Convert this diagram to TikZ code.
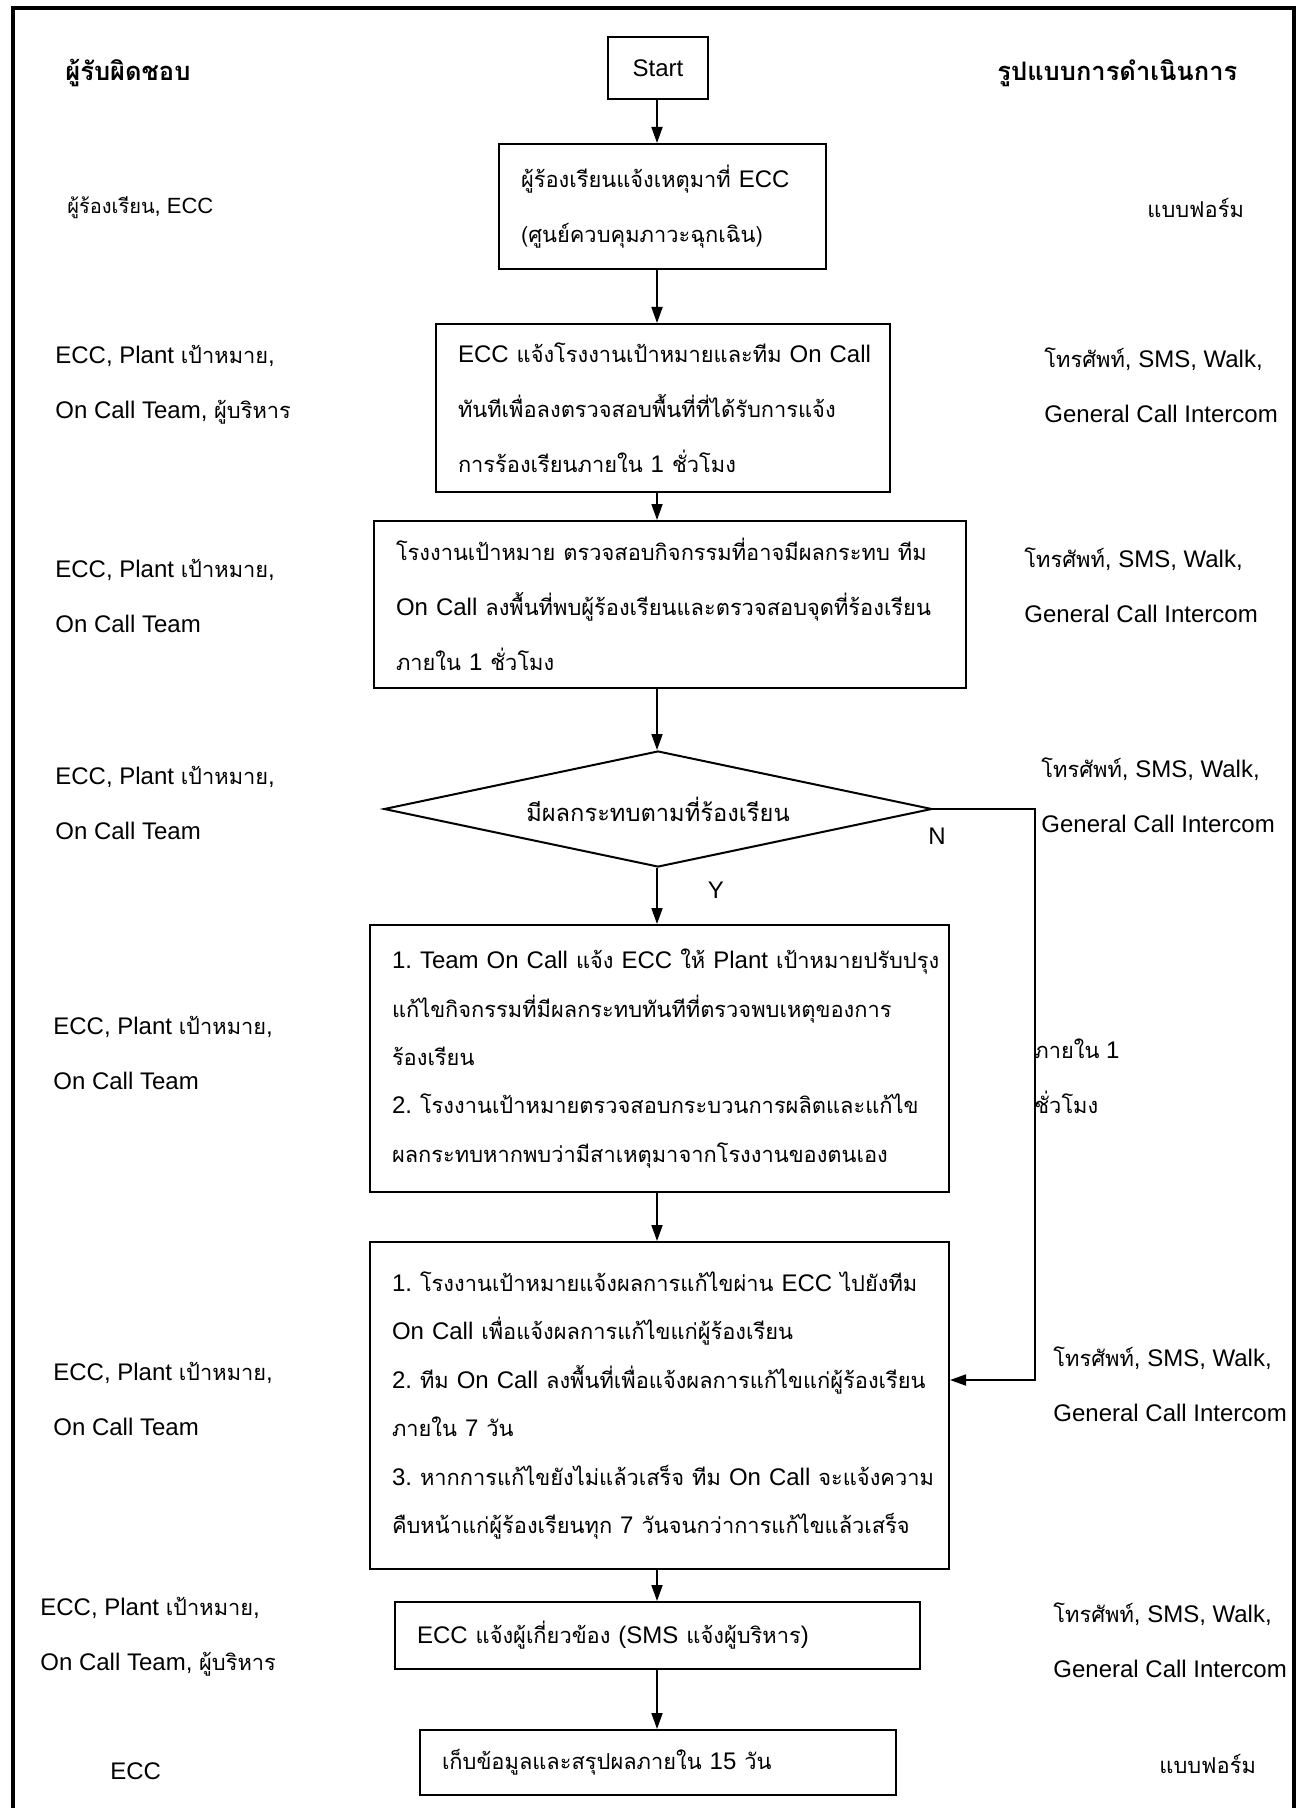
\documentclass[tikz,border=0pt]{standalone}
\usepackage{fontspec}
\setmainfont{Liberation Sans}
\newfontfamily\thaifont[Script=Thai,Scale=0.91]{Loma}
\newcommand\T[1]{{\thaifont #1}}
\usetikzlibrary{arrows.meta,shapes.geometric}
\frenchspacing
\begin{document}
\begin{tikzpicture}[x=0.5pt,y=-0.5pt,
  every node/.style={inner sep=0pt},
  fs/.style={font=\frenchspacing\fontsize{12}{27.5}\selectfont},
  fsb/.style={font=\frenchspacing\fontsize{12}{24.2}\selectfont},
  lbl/.style={fs, anchor=west, align=left},
  hd/.style={anchor=west, font=\fontsize{14}{16}\selectfont\bfseries},
  box/.style={draw, line width=1pt, inner xsep=11pt, inner ysep=0pt, align=left},
  arr/.style={line width=0.9pt, -{Triangle[length=8pt,width=5.5pt]}},
  yn/.style={font=\fontsize{12}{14}\selectfont}
]
\useasboundingbox (0,0) rectangle (1303,1808);
\draw[line width=2pt] (13,1808) -- (13,8) -- (1294,8) -- (1294,1808);

% headers
\node[hd] (h1) at (65,73) {\T{ผู้รับผิดชอบ}};
\node[hd] (h2) at (997,73) {\T{รูปแบบการดำเนินการ}};

% flow boxes
\coordinate (ax) at (657,0);
\node[box, fs, align=center, minimum width=50pt, minimum height=31pt, inner xsep=0pt] (s) at (658,68) {Start};
\node[box, fs, text width=141.5pt, minimum height=62.5pt] (b1) at (662.5,206.5)
  {\mbox{\T{ผู้ร้องเรียนแจ้งเหตุมาที่} ECC}\\\mbox{\T{(ศูนย์ควบคุมภาวะฉุกเฉิน)}}};
\node[box, fs, text width=205pt, minimum height=84pt] (b2) at (663,408)
  {\mbox{ECC \T{แจ้งโรงงานเป้าหมายและทีม} On Call}\\\mbox{\T{ทันทีเพื่อลงตรวจสอบพื้นที่ที่ได้รับการแจ้ง}}\\\mbox{\T{การร้องเรียนภายใน} 1 \T{ชั่วโมง}}};
\node[box, fs, text width=274pt, minimum height=83.5pt] (b3) at (670,604.5)
  {\mbox{\T{โรงงานเป้าหมาย ตรวจสอบกิจกรรมที่อาจมีผลกระทบ ทีม}}\\\mbox{On Call \T{ลงพื้นที่พบผู้ร้องเรียนและตรวจสอบจุดที่ร้องเรียน}}\\\mbox{\T{ภายใน} 1 \T{ชั่วโมง}}};
\node[draw, diamond, line width=1pt, font=\fontsize{13}{15}\selectfont, minimum width=274pt, minimum height=58pt, aspect=4.72] (d) at (658,809)
  {\T{มีผลกระทบตามที่ร้องเรียน}};
\node[box, fsb, text width=267.5pt, minimum height=133.5pt] (b4) at (659.5,1058.5)
  {\mbox{1. Team On Call \T{แจ้ง} ECC \T{ให้} Plant \T{เป้าหมายปรับปรุง}}\\\mbox{\T{แก้ไขกิจกรรมที่มีผลกระทบทันทีที่ตรวจพบเหตุของการ}}\\\mbox{\T{ร้องเรียน}}\\\mbox{2. \T{โรงงานเป้าหมายตรวจสอบกระบวนการผลิตและแก้ไข}}\\\mbox{\T{ผลกระทบหากพบว่ามีสาเหตุมาจากโรงงานของตนเอง}}};
\node[box, fsb, text width=267.5pt, minimum height=163.5pt] (b5) at (659.5,1405.5)
  {\mbox{1. \T{โรงงานเป้าหมายแจ้งผลการแก้ไขผ่าน} ECC \T{ไปยังทีม}}\\\mbox{On Call \T{เพื่อแจ้งผลการแก้ไขแก่ผู้ร้องเรียน}}\\\mbox{2. \T{ทีม} On Call \T{ลงพื้นที่เพื่อแจ้งผลการแก้ไขแก่ผู้ร้องเรียน}}\\\mbox{\T{ภายใน} 7 \T{วัน}}\\\mbox{3. \T{หากการแก้ไขยังไม่แล้วเสร็จ ทีม} On Call \T{จะแจ้งความ}}\\\mbox{\T{คืบหน้าแก่ผู้ร้องเรียนทุก} 7 \T{วันจนกว่าการแก้ไขแล้วเสร็จ}}};
\node[box, fs, text width=240.5pt, minimum height=33.5pt] (b6) at (657.5,1635.5)
  {\mbox{ECC \T{แจ้งผู้เกี่ยวข้อง} (SMS \T{แจ้งผู้บริหาร})}};
\node[box, fs, text width=216pt, minimum height=32.5pt] (b7) at (658,1762.5)
  {\mbox{\T{เก็บข้อมูลและสรุปผลภายใน} 15 \T{วัน}}};

% connectors
\draw[arr] (s.south -| ax) -- (b1.north -| ax);
\draw[arr] (b1.south -| ax) -- (b2.north -| ax);
\draw[arr] (b2.south -| ax) -- (b3.north -| ax);
\draw[arr] (b3.south -| ax) -- (d.north -| ax);
\draw[arr] (d.south -| ax) -- node[yn, pos=0.4, right=25pt] (ylab) {Y} (b4.north -| ax);
\draw[arr] (b4.south -| ax) -- (b5.north -| ax);
\draw[arr] (b5.south -| ax) -- (b6.north -| ax);
\draw[arr] (b6.south -| ax) -- (b7.north -| ax);
\coordinate (nt) at (1035,1380);
\draw[arr] (d.east) -| (nt) -- (b5.east |- nt);
\node[yn] (nlab) at (937,836) {N};
\node[lbl] (t1) at (1034,1076) {\T{ภายใน} 1\\\T{ชั่วโมง}};

% left column
\node[lbl, font=\fontsize{11}{14}\selectfont] (l1) at (67,208) {\T{ผู้ร้องเรียน}, ECC};
\node[lbl] (l2) at (55,385) {ECC, Plant \T{เป้าหมาย},\\On Call Team, \T{ผู้บริหาร}};
\node[lbl] (l3) at (55,596) {ECC, Plant \T{เป้าหมาย},\\On Call Team};
\node[lbl] (l4) at (55,803) {ECC, Plant \T{เป้าหมาย},\\On Call Team};
\node[lbl] (l5) at (53,1053) {ECC, Plant \T{เป้าหมาย},\\On Call Team};
\node[lbl] (l6) at (53,1399) {ECC, Plant \T{เป้าหมาย},\\On Call Team};
\node[lbl] (l7) at (40,1637) {ECC, Plant \T{เป้าหมาย},\\On Call Team, \T{ผู้บริหาร}};
\node[lbl] (l8) at (110,1771) {ECC};

% right column
\node[lbl] (r1) at (1147,208) {\T{แบบฟอร์ม}};
\node[lbl] (r2) at (1044,385) {\T{โทรศัพท์}, SMS, Walk,\\General Call Intercom};
\node[lbl] (r3) at (1024,585) {\T{โทรศัพท์}, SMS, Walk,\\General Call Intercom};
\node[lbl] (r4) at (1041,795) {\T{โทรศัพท์}, SMS, Walk,\\General Call Intercom};
\node[lbl] (r6) at (1053,1384) {\T{โทรศัพท์}, SMS, Walk,\\General Call Intercom};
\node[lbl] (r7) at (1053,1640) {\T{โทรศัพท์}, SMS, Walk,\\General Call Intercom};
\node[lbl] (r8) at (1159,1764) {\T{แบบฟอร์ม}};
\end{tikzpicture}
\end{document}
